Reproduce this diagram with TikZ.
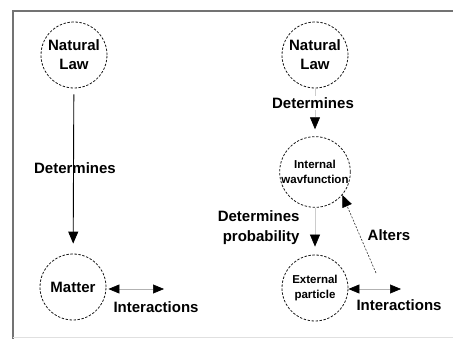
\documentclass[tikz,border=0pt]{standalone}
\usepackage{fontspec}
\setmainfont{Liberation Sans}
\usetikzlibrary{arrows.meta}

\tikzset{
  blob/.style={circle, draw=black!90, line width=0.8pt, dash pattern=on 2.4pt off 1.6pt,
    minimum size=66pt, inner sep=0pt, align=center,
    font=\bfseries\fontsize{15}{19}\selectfont},
  smallblob/.style={blob, font=\bfseries\fontsize{11.5}{14.5}\selectfont},
  lbl/.style={font=\bfseries\fontsize{15}{20}\selectfont, align=center},
  bigtip/.style={>={Triangle[length=12pt,width=10pt,color=black,fill=black]}, ->},
  duotip/.style={>={Triangle[length=11pt,width=9pt,color=black,fill=black]}, <->},
}

\begin{document}
\begin{tikzpicture}[x=1pt,y=-1pt]
	\useasboundingbox (0,0) rectangle (453,339);
	% frame
	\draw [black!55, line width=2pt] (13,339) -- (13,11) -- (453,11);
	\draw [black!12, line width=1pt] (13,337.5) -- (453,337.5);

	% classical picture
	\node [blob] (law1) at (74,55) {Natural\\Law};
	\node [blob] (matter) at (73,287) {Matter};
	\coordinate (int1end) at (164,289);
	\draw [line width=0.9pt, bigtip, shorten <=6pt, shorten >=10pt] (law1) -- (matter);
	\node [lbl] (det1) at (75,168) {Determines};
	\draw [black!30, line width=0.6pt, duotip, shorten <=2pt] (matter.east |- int1end) -- (int1end);
	\node [lbl, anchor=west] (inter1) at (110,307) {Interactions};

	% quantum picture
	\node [blob] (law2) at (315,55) {Natural\\Law};
	\node [smallblob] (wave) at (315,172) {Internal\\wavfunction};
	\node [smallblob] (particle) at (315,288) {External\\particle};
	\coordinate (int2end) at (401,289);
	\coordinate (altsrc) at (376,273);
	\draw [black!20, line width=0.6pt, bigtip, shorten >=7pt] (law2) -- (wave);
	\node [lbl, fill=white, inner sep=1pt] (det2) at (313,103) {Determines};
	\draw [black!20, line width=0.6pt, bigtip, shorten >=8pt] (wave) -- (particle);
	\node [lbl, align=right, anchor=east] (det3) at (303,228) {Determines\\probability};
	\draw [black!30, line width=0.6pt, duotip] (particle.east |- int2end) -- (int2end);
	\node [lbl, anchor=west] (inter2) at (353,305) {Interactions};
	\draw [black!80, line width=0.6pt, dash pattern=on 2pt off 1.5pt, bigtip] (altsrc) -- (wave.-40);
	\node [lbl] (alters) at (389,235) {Alters};
\end{tikzpicture}
\end{document}
